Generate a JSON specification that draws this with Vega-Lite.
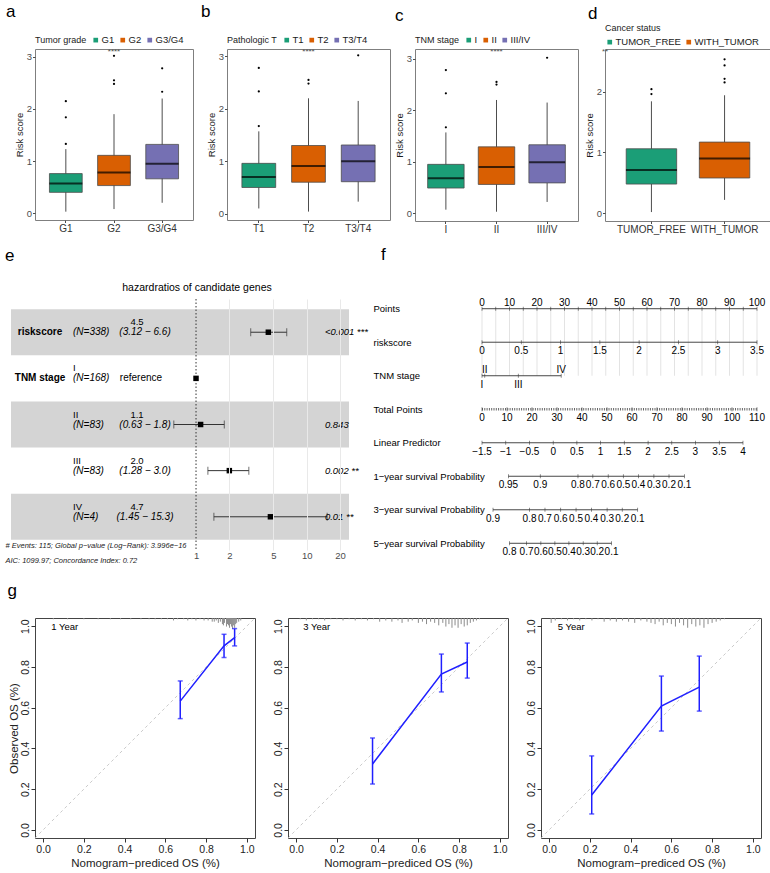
{
"$schema": "https://vega.github.io/schema/vega-lite/v6.json",
"padding": {"left": 5, "top": 2, "right": 0, "bottom": 0},
"config": {
 "font": "Liberation Sans",
 "view": {"stroke": null},
 "title": {"font": "Liberation Sans", "fontSize": 17, "fontWeight": "normal", "anchor": "start", "color": "#000", "frame": "group"},
 "axis": {"labelFont": "Liberation Sans", "titleFont": "Liberation Sans", "labelFontSize": 9.5, "titleFontSize": 9.5, "titleFontWeight": "normal", "labelColor": "#4d4d4d", "titleColor": "#1a1a1a", "tickColor": "#4d4d4d", "tickSize": 2.5, "labelPadding": 1, "titlePadding": 2, "domain": false, "grid": false, "labelFlush": false},
 "legend": {"orient": "top", "direction": "horizontal", "titleOrient": "left", "symbolType": "square", "symbolSize": 22, "symbolStrokeWidth": 0, "labelFontSize": 9.5, "titleFontSize": 9, "titleFontWeight": "normal", "labelFont": "Liberation Sans", "titleFont": "Liberation Sans", "columnPadding": 3, "labelOffset": 1, "padding": 0, "offset": 4, "titlePadding": 4, "labelColor": "#1a1a1a", "titleColor": "#1a1a1a"},
 "text": {"font": "Liberation Sans"}
},
"datasets": {
 "boxes": [
  {"panel":"a","grp":"G1","lo":0.03,"q1":0.40,"med":0.57,"q3":0.76,"hi":1.23},
  {"panel":"a","grp":"G2","lo":0.08,"q1":0.53,"med":0.78,"q3":1.11,"hi":1.90},
  {"panel":"a","grp":"G3/G4","lo":0.20,"q1":0.66,"med":0.95,"q3":1.32,"hi":2.20},
  {"panel":"b","grp":"T1","lo":0.10,"q1":0.50,"med":0.70,"q3":0.96,"hi":1.57},
  {"panel":"b","grp":"T2","lo":0.04,"q1":0.60,"med":0.91,"q3":1.30,"hi":2.20},
  {"panel":"b","grp":"T3/T4","lo":0.23,"q1":0.61,"med":1.00,"q3":1.31,"hi":2.15},
  {"panel":"c","grp":"I","lo":0.07,"q1":0.49,"med":0.68,"q3":0.95,"hi":1.57},
  {"panel":"c","grp":"II","lo":0.03,"q1":0.56,"med":0.90,"q3":1.29,"hi":2.20},
  {"panel":"c","grp":"III/IV","lo":0.22,"q1":0.59,"med":0.99,"q3":1.33,"hi":2.15},
  {"panel":"d","grp":"TUMOR_FREE","lo":0.02,"q1":0.48,"med":0.71,"q3":1.06,"hi":1.84},
  {"panel":"d","grp":"WITH_TUMOR","lo":0.22,"q1":0.58,"med":0.90,"q3":1.17,"hi":1.94}
 ],
 "outliers": [
  {"panel":"a","grp":"G1","v":1.33},{"panel":"a","grp":"G1","v":1.84},{"panel":"a","grp":"G1","v":2.15},
  {"panel":"a","grp":"G2","v":2.48},{"panel":"a","grp":"G2","v":2.55},{"panel":"a","grp":"G2","v":3.02},
  {"panel":"a","grp":"G3/G4","v":2.33},{"panel":"a","grp":"G3/G4","v":2.78},
  {"panel":"b","grp":"T1","v":1.67},{"panel":"b","grp":"T1","v":2.33},{"panel":"b","grp":"T1","v":2.78},
  {"panel":"b","grp":"T2","v":2.48},{"panel":"b","grp":"T2","v":2.55},
  {"panel":"b","grp":"T3/T4","v":3.02},
  {"panel":"c","grp":"I","v":1.67},{"panel":"c","grp":"I","v":2.33},{"panel":"c","grp":"I","v":2.78},
  {"panel":"c","grp":"II","v":2.50},{"panel":"c","grp":"II","v":2.55},
  {"panel":"c","grp":"III/IV","v":3.02},
  {"panel":"d","grp":"TUMOR_FREE","v":1.96},{"panel":"d","grp":"TUMOR_FREE","v":2.04},
  {"panel":"d","grp":"WITH_TUMOR","v":2.15},{"panel":"d","grp":"WITH_TUMOR","v":2.21},{"panel":"d","grp":"WITH_TUMOR","v":2.43},{"panel":"d","grp":"WITH_TUMOR","v":2.53}
 ],
 "forest": [
  {"row":"riskscore","lab":"riskscore","lvl":null,"n":"(N=338)","est":"4.5","ci":"(3.12 −  6.6)","ref":null,"hr":4.5,"lo":3.12,"hi":6.6,"p":"<0.001 ***"},
  {"row":"I","lab":"TNM stage","lvl":"I","n":"(N=168)","est":null,"ci":null,"ref":"reference","hr":1,"lo":null,"hi":null,"p":null},
  {"row":"II","lab":null,"lvl":"II","n":"(N=83)","est":"1.1","ci":"(0.63 −  1.8)","ref":null,"hr":1.1,"lo":0.63,"hi":1.8,"p":"0.843"},
  {"row":"III","lab":null,"lvl":"III","n":"(N=83)","est":"2.0","ci":"(1.28 −  3.0)","ref":null,"hr":2.0,"lo":1.28,"hi":3.0,"p":"0.002 **"},
  {"row":"IV","lab":null,"lvl":"IV","n":"(N=4)","est":"4.7","ci":"(1.45 − 15.3)","ref":null,"hr":4.7,"lo":1.45,"hi":15.3,"p":"0.01 **"}
 ],
 "nomo": [
  {"axis":"Points","pos":0,"label":"0","side":"above"},{"axis":"Points","pos":5,"label":"","side":"above"},
  {"axis":"Points","pos":10,"label":"10","side":"above"},{"axis":"Points","pos":15,"label":"","side":"above"},
  {"axis":"Points","pos":20,"label":"20","side":"above"},{"axis":"Points","pos":25,"label":"","side":"above"},
  {"axis":"Points","pos":30,"label":"30","side":"above"},{"axis":"Points","pos":35,"label":"","side":"above"},
  {"axis":"Points","pos":40,"label":"40","side":"above"},{"axis":"Points","pos":45,"label":"","side":"above"},
  {"axis":"Points","pos":50,"label":"50","side":"above"},{"axis":"Points","pos":55,"label":"","side":"above"},
  {"axis":"Points","pos":60,"label":"60","side":"above"},{"axis":"Points","pos":65,"label":"","side":"above"},
  {"axis":"Points","pos":70,"label":"70","side":"above"},{"axis":"Points","pos":75,"label":"","side":"above"},
  {"axis":"Points","pos":80,"label":"80","side":"above"},{"axis":"Points","pos":85,"label":"","side":"above"},
  {"axis":"Points","pos":90,"label":"90","side":"above"},{"axis":"Points","pos":95,"label":"","side":"above"},
  {"axis":"Points","pos":100,"label":"100","side":"above"},
  {"axis":"riskscore","pos":0,"label":"0","side":"below"},{"axis":"riskscore","pos":14.29,"label":"0.5","side":"below"},
  {"axis":"riskscore","pos":28.57,"label":"1","side":"below"},{"axis":"riskscore","pos":42.86,"label":"1.5","side":"below"},
  {"axis":"riskscore","pos":57.14,"label":"2","side":"below"},{"axis":"riskscore","pos":71.43,"label":"2.5","side":"below"},
  {"axis":"riskscore","pos":85.71,"label":"3","side":"below"},{"axis":"riskscore","pos":100,"label":"3.5","side":"below"},
  {"axis":"TNM stage","pos":0,"label":"I","side":"below"},{"axis":"TNM stage","pos":1,"label":"II","side":"above"},
  {"axis":"TNM stage","pos":13.2,"label":"III","side":"below"},{"axis":"TNM stage","pos":28.8,"label":"IV","side":"above"},
  {"axis":"Total Points","pos":0,"label":"0","side":"below"},{"axis":"Total Points","pos":9.09,"label":"10","side":"below"},
  {"axis":"Total Points","pos":18.18,"label":"20","side":"below"},{"axis":"Total Points","pos":27.27,"label":"30","side":"below"},
  {"axis":"Total Points","pos":36.36,"label":"40","side":"below"},{"axis":"Total Points","pos":45.45,"label":"50","side":"below"},
  {"axis":"Total Points","pos":54.55,"label":"60","side":"below"},{"axis":"Total Points","pos":63.64,"label":"70","side":"below"},
  {"axis":"Total Points","pos":72.73,"label":"80","side":"below"},{"axis":"Total Points","pos":81.82,"label":"90","side":"below"},
  {"axis":"Total Points","pos":90.91,"label":"100","side":"below"},{"axis":"Total Points","pos":100,"label":"110","side":"below"},
  {"axis":"Linear Predictor","pos":0,"label":"−1.5","side":"below"},{"axis":"Linear Predictor","pos":8.63,"label":"−1","side":"below"},
  {"axis":"Linear Predictor","pos":17.25,"label":"−0.5","side":"below"},{"axis":"Linear Predictor","pos":25.9,"label":"0","side":"below"},
  {"axis":"Linear Predictor","pos":34.5,"label":"0.5","side":"below"},{"axis":"Linear Predictor","pos":43.1,"label":"1","side":"below"},
  {"axis":"Linear Predictor","pos":51.75,"label":"1.5","side":"below"},{"axis":"Linear Predictor","pos":60.4,"label":"2","side":"below"},
  {"axis":"Linear Predictor","pos":69,"label":"2.5","side":"below"},{"axis":"Linear Predictor","pos":77.6,"label":"3","side":"below"},
  {"axis":"Linear Predictor","pos":86.3,"label":"3.5","side":"below"},{"axis":"Linear Predictor","pos":94.9,"label":"4","side":"below"},
  {"axis":"1−year survival Probability","pos":9.6,"label":"0.95","side":"below"},{"axis":"1−year survival Probability","pos":21.2,"label":"0.9","side":"below"},
  {"axis":"1−year survival Probability","pos":34.9,"label":"0.8","side":"below"},{"axis":"1−year survival Probability","pos":40.3,"label":"0.7","side":"below"},
  {"axis":"1−year survival Probability","pos":45.9,"label":"0.6","side":"below"},{"axis":"1−year survival Probability","pos":51.4,"label":"0.5","side":"below"},
  {"axis":"1−year survival Probability","pos":56.9,"label":"0.4","side":"below"},{"axis":"1−year survival Probability","pos":62.5,"label":"0.3","side":"below"},
  {"axis":"1−year survival Probability","pos":68.0,"label":"0.2","side":"below"},{"axis":"1−year survival Probability","pos":73.6,"label":"0.1","side":"below"},
  {"axis":"3−year survival Probability","pos":4.0,"label":"0.9","side":"below"},{"axis":"3−year survival Probability","pos":17.3,"label":"0.8","side":"below"},
  {"axis":"3−year survival Probability","pos":22.9,"label":"0.7","side":"below"},{"axis":"3−year survival Probability","pos":28.6,"label":"0.6","side":"below"},
  {"axis":"3−year survival Probability","pos":34.2,"label":"0.5","side":"below"},{"axis":"3−year survival Probability","pos":39.8,"label":"0.4","side":"below"},
  {"axis":"3−year survival Probability","pos":45.5,"label":"0.3","side":"below"},{"axis":"3−year survival Probability","pos":51.0,"label":"0.2","side":"below"},
  {"axis":"3−year survival Probability","pos":56.6,"label":"0.1","side":"below"},
  {"axis":"5−year survival Probability","pos":10.0,"label":"0.8","side":"below"},{"axis":"5−year survival Probability","pos":16.2,"label":"0.7","side":"below"},
  {"axis":"5−year survival Probability","pos":21.4,"label":"0.6","side":"below"},{"axis":"5−year survival Probability","pos":26.5,"label":"0.5","side":"below"},
  {"axis":"5−year survival Probability","pos":31.6,"label":"0.4","side":"below"},{"axis":"5−year survival Probability","pos":36.8,"label":"0.3","side":"below"},
  {"axis":"5−year survival Probability","pos":41.9,"label":"0.2","side":"below"},{"axis":"5−year survival Probability","pos":47.1,"label":"0.1","side":"below"}
 ],
 "calib": [
  {"panel":"1 Year","pred":0.673,"obs":0.632,"lo":0.546,"hi":0.731},
  {"panel":"1 Year","pred":0.888,"obs":0.903,"lo":0.846,"hi":0.960},
  {"panel":"1 Year","pred":0.940,"obs":0.944,"lo":0.903,"hi":0.988},
  {"panel":"3 Year","pred":0.375,"obs":0.323,"lo":0.225,"hi":0.451},
  {"panel":"3 Year","pred":0.713,"obs":0.765,"lo":0.677,"hi":0.863},
  {"panel":"3 Year","pred":0.840,"obs":0.824,"lo":0.745,"hi":0.917},
  {"panel":"5 Year","pred":0.209,"obs":0.171,"lo":0.078,"hi":0.363},
  {"panel":"5 Year","pred":0.551,"obs":0.608,"lo":0.485,"hi":0.755},
  {"panel":"5 Year","pred":0.737,"obs":0.701,"lo":0.583,"hi":0.853}
 ],
 "rug": [
  {"panel":"1 Year","pred":0.05,"n":1},{"panel":"1 Year","pred":0.12,"n":1},{"panel":"1 Year","pred":0.2,"n":1},{"panel":"1 Year","pred":0.27,"n":1},
  {"panel":"1 Year","pred":0.33,"n":1},{"panel":"1 Year","pred":0.38,"n":1},{"panel":"1 Year","pred":0.43,"n":1},{"panel":"1 Year","pred":0.48,"n":1},
  {"panel":"1 Year","pred":0.52,"n":1},{"panel":"1 Year","pred":0.55,"n":1},{"panel":"1 Year","pred":0.58,"n":1},{"panel":"1 Year","pred":0.61,"n":1},
  {"panel":"1 Year","pred":0.64,"n":2},{"panel":"1 Year","pred":0.66,"n":1},{"panel":"1 Year","pred":0.69,"n":1},{"panel":"1 Year","pred":0.71,"n":2},
  {"panel":"1 Year","pred":0.73,"n":1},{"panel":"1 Year","pred":0.75,"n":2},{"panel":"1 Year","pred":0.77,"n":1},{"panel":"1 Year","pred":0.79,"n":2},
  {"panel":"1 Year","pred":0.81,"n":2},{"panel":"1 Year","pred":0.83,"n":3},{"panel":"1 Year","pred":0.84,"n":3},{"panel":"1 Year","pred":0.85,"n":2},
  {"panel":"1 Year","pred":0.86,"n":4},{"panel":"1 Year","pred":0.87,"n":3},{"panel":"1 Year","pred":0.88,"n":5},{"panel":"1 Year","pred":0.885,"n":6},
  {"panel":"1 Year","pred":0.89,"n":4},{"panel":"1 Year","pred":0.9,"n":7},{"panel":"1 Year","pred":0.905,"n":5},{"panel":"1 Year","pred":0.91,"n":6},
  {"panel":"1 Year","pred":0.915,"n":8},{"panel":"1 Year","pred":0.92,"n":5},{"panel":"1 Year","pred":0.925,"n":7},{"panel":"1 Year","pred":0.93,"n":9},
  {"panel":"1 Year","pred":0.935,"n":6},{"panel":"1 Year","pred":0.94,"n":8},{"panel":"1 Year","pred":0.945,"n":5},{"panel":"1 Year","pred":0.95,"n":4},
  {"panel":"1 Year","pred":0.96,"n":3},{"panel":"1 Year","pred":0.97,"n":2},
  {"panel":"3 Year","pred":0.02,"n":1},{"panel":"3 Year","pred":0.05,"n":2},{"panel":"3 Year","pred":0.08,"n":1},{"panel":"3 Year","pred":0.11,"n":1},
  {"panel":"3 Year","pred":0.14,"n":2},{"panel":"3 Year","pred":0.17,"n":1},{"panel":"3 Year","pred":0.2,"n":1},{"panel":"3 Year","pred":0.23,"n":2},
  {"panel":"3 Year","pred":0.26,"n":1},{"panel":"3 Year","pred":0.29,"n":2},{"panel":"3 Year","pred":0.32,"n":1},{"panel":"3 Year","pred":0.35,"n":2},
  {"panel":"3 Year","pred":0.38,"n":1},{"panel":"3 Year","pred":0.41,"n":3},{"panel":"3 Year","pred":0.44,"n":2},{"panel":"3 Year","pred":0.47,"n":3},
  {"panel":"3 Year","pred":0.5,"n":2},{"panel":"3 Year","pred":0.52,"n":4},{"panel":"3 Year","pred":0.55,"n":3},{"panel":"3 Year","pred":0.57,"n":2},
  {"panel":"3 Year","pred":0.6,"n":4},{"panel":"3 Year","pred":0.62,"n":3},{"panel":"3 Year","pred":0.64,"n":5},{"panel":"3 Year","pred":0.66,"n":3},
  {"panel":"3 Year","pred":0.68,"n":4},{"panel":"3 Year","pred":0.7,"n":6},{"panel":"3 Year","pred":0.72,"n":4},{"panel":"3 Year","pred":0.735,"n":7},
  {"panel":"3 Year","pred":0.75,"n":5},{"panel":"3 Year","pred":0.765,"n":8},{"panel":"3 Year","pred":0.78,"n":6},{"panel":"3 Year","pred":0.795,"n":8},
  {"panel":"3 Year","pred":0.81,"n":5},{"panel":"3 Year","pred":0.825,"n":7},{"panel":"3 Year","pred":0.84,"n":6},{"panel":"3 Year","pred":0.855,"n":4},
  {"panel":"3 Year","pred":0.87,"n":3},{"panel":"3 Year","pred":0.885,"n":2},{"panel":"3 Year","pred":0.9,"n":1},
  {"panel":"5 Year","pred":0.01,"n":4},{"panel":"5 Year","pred":0.03,"n":2},{"panel":"5 Year","pred":0.06,"n":1},{"panel":"5 Year","pred":0.09,"n":2},
  {"panel":"5 Year","pred":0.12,"n":1},{"panel":"5 Year","pred":0.15,"n":2},{"panel":"5 Year","pred":0.18,"n":1},{"panel":"5 Year","pred":0.21,"n":2},
  {"panel":"5 Year","pred":0.24,"n":1},{"panel":"5 Year","pred":0.27,"n":3},{"panel":"5 Year","pred":0.3,"n":2},{"panel":"5 Year","pred":0.33,"n":3},
  {"panel":"5 Year","pred":0.36,"n":2},{"panel":"5 Year","pred":0.39,"n":3},{"panel":"5 Year","pred":0.42,"n":4},{"panel":"5 Year","pred":0.45,"n":2},
  {"panel":"5 Year","pred":0.48,"n":3},{"panel":"5 Year","pred":0.5,"n":4},{"panel":"5 Year","pred":0.52,"n":5},{"panel":"5 Year","pred":0.54,"n":3},
  {"panel":"5 Year","pred":0.56,"n":6},{"panel":"5 Year","pred":0.58,"n":4},{"panel":"5 Year","pred":0.6,"n":5},{"panel":"5 Year","pred":0.62,"n":7},
  {"panel":"5 Year","pred":0.64,"n":4},{"panel":"5 Year","pred":0.66,"n":6},{"panel":"5 Year","pred":0.68,"n":8},{"panel":"5 Year","pred":0.7,"n":5},
  {"panel":"5 Year","pred":0.72,"n":7},{"panel":"5 Year","pred":0.74,"n":6},{"panel":"5 Year","pred":0.76,"n":8},{"panel":"5 Year","pred":0.78,"n":5},
  {"panel":"5 Year","pred":0.8,"n":4},{"panel":"5 Year","pred":0.82,"n":3},{"panel":"5 Year","pred":0.84,"n":2},{"panel":"5 Year","pred":0.86,"n":1}
 ]
},
"spacing": 18,
"resolve": {"scale": {"color": "independent"}},
"vconcat": [
 {"spacing": 10, "resolve": {"scale": {"color": "independent"}}, "vconcat": [
  {"spacing": 2, "resolve": {"scale": {"color": "independent"}}, "hconcat": [
   {"spacing": 6, "resolve": {"scale": {"color": "independent"}}, "hconcat": [
    {"width": 158, "height": 171, "view": {"stroke": "#7f7f7f"}, "title": {"text": "a", "dx": -29, "offset": 14},
     "layer": [
      {"data": {"name": "boxes"}, "transform": [{"filter": "datum.panel == 'a'"}], "mark": {"type": "rule", "color": "#4d4d4d"},
       "encoding": {"x": {"field": "grp", "type": "nominal", "scale": {"domain": ["G1","G2","G3/G4"], "paddingInner": 0.32, "paddingOuter": 0.3}, "axis": {"title": null, "labelAngle": 0, "labelFontSize": 10, "labelColor": "#333"}},
        "y": {"field": "lo", "type": "quantitative", "scale": {"domain": [-0.13, 3.15], "nice": false, "zero": false}, "axis": {"title": "Risk score", "values": [0,1,2,3], "format": "d"}},
        "y2": {"field": "hi"}}},
      {"data": {"name": "boxes"}, "transform": [{"filter": "datum.panel == 'a'"}], "mark": {"type": "bar", "stroke": "#4d4d4d", "strokeWidth": 0.8},
       "encoding": {"x": {"field": "grp", "type": "nominal"}, "y": {"field": "q1", "type": "quantitative"}, "y2": {"field": "q3"},
        "color": {"field": "grp", "type": "nominal", "scale": {"domain": ["G1","G2","G3/G4"], "range": ["#1b9e77","#d95f02","#7570b3"]}, "legend": {"title": "Tumor grade"}}}},
      {"data": {"name": "boxes"}, "transform": [{"filter": "datum.panel == 'a'"}], "mark": {"type": "tick", "color": "#000", "thickness": 2, "size": 33},
       "encoding": {"x": {"field": "grp", "type": "nominal"}, "y": {"field": "med", "type": "quantitative"}}},
      {"data": {"name": "outliers"}, "transform": [{"filter": "datum.panel == 'a'"}], "mark": {"type": "point", "filled": true, "size": 5, "color": "#000", "opacity": 1},
       "encoding": {"x": {"field": "grp", "type": "nominal"}, "y": {"field": "v", "type": "quantitative"}}},
      {"data": {"values": [{}]}, "mark": {"type": "text", "fontSize": 8, "color": "#555", "baseline": "middle"},
       "encoding": {"x": {"datum": "G2"}, "y": {"datum": 3.1}, "text": {"value": "****"}}}
     ]},
    {"width": 163, "height": 171, "view": {"stroke": "#7f7f7f"}, "title": {"text": "b", "dx": -26, "offset": 14},
     "layer": [
      {"data": {"name": "boxes"}, "transform": [{"filter": "datum.panel == 'b'"}], "mark": {"type": "rule", "color": "#4d4d4d"},
       "encoding": {"x": {"field": "grp", "type": "nominal", "scale": {"domain": ["T1","T2","T3/T4"], "paddingInner": 0.32, "paddingOuter": 0.3}, "axis": {"title": null, "labelAngle": 0, "labelFontSize": 10, "labelColor": "#333"}},
        "y": {"field": "lo", "type": "quantitative", "scale": {"domain": [-0.12, 3.14], "nice": false, "zero": false}, "axis": {"title": "Risk score", "values": [0,1,2,3], "format": "d"}},
        "y2": {"field": "hi"}}},
      {"data": {"name": "boxes"}, "transform": [{"filter": "datum.panel == 'b'"}], "mark": {"type": "bar", "stroke": "#4d4d4d", "strokeWidth": 0.8},
       "encoding": {"x": {"field": "grp", "type": "nominal"}, "y": {"field": "q1", "type": "quantitative"}, "y2": {"field": "q3"},
        "color": {"field": "grp", "type": "nominal", "scale": {"domain": ["T1","T2","T3/T4"], "range": ["#1b9e77","#d95f02","#7570b3"]}, "legend": {"title": "Pathologic T"}}}},
      {"data": {"name": "boxes"}, "transform": [{"filter": "datum.panel == 'b'"}], "mark": {"type": "tick", "color": "#000", "thickness": 2, "size": 34},
       "encoding": {"x": {"field": "grp", "type": "nominal"}, "y": {"field": "med", "type": "quantitative"}}},
      {"data": {"name": "outliers"}, "transform": [{"filter": "datum.panel == 'b'"}], "mark": {"type": "point", "filled": true, "size": 5, "color": "#000", "opacity": 1},
       "encoding": {"x": {"field": "grp", "type": "nominal"}, "y": {"field": "v", "type": "quantitative"}}},
      {"data": {"values": [{}]}, "mark": {"type": "text", "fontSize": 8, "color": "#555", "baseline": "middle"},
       "encoding": {"x": {"datum": "T2"}, "y": {"datum": 3.09}, "text": {"value": "****"}}}
     ]}
   ]},
   {"spacing": 4, "resolve": {"scale": {"color": "independent"}}, "hconcat": [
    {"width": 163, "height": 172, "view": {"stroke": "#7f7f7f"}, "title": {"text": "c", "dx": -20, "offset": 10},
     "layer": [
      {"data": {"name": "boxes"}, "transform": [{"filter": "datum.panel == 'c'"}], "mark": {"type": "rule", "color": "#4d4d4d"},
       "encoding": {"x": {"field": "grp", "type": "nominal", "scale": {"domain": ["I","II","III/IV"], "paddingInner": 0.28, "paddingOuter": 0.25}, "axis": {"title": null, "labelAngle": 0, "labelFontSize": 10, "labelColor": "#333"}},
        "y": {"field": "lo", "type": "quantitative", "scale": {"domain": [-0.15, 3.19], "nice": false, "zero": false}, "axis": {"title": "Risk score", "values": [0,1,2,3], "format": "d"}},
        "y2": {"field": "hi"}}},
      {"data": {"name": "boxes"}, "transform": [{"filter": "datum.panel == 'c'"}], "mark": {"type": "bar", "stroke": "#4d4d4d", "strokeWidth": 0.8},
       "encoding": {"x": {"field": "grp", "type": "nominal"}, "y": {"field": "q1", "type": "quantitative"}, "y2": {"field": "q3"},
        "color": {"field": "grp", "type": "nominal", "scale": {"domain": ["I","II","III/IV"], "range": ["#1b9e77","#d95f02","#7570b3"]}, "legend": {"title": "TNM stage"}}}},
      {"data": {"name": "boxes"}, "transform": [{"filter": "datum.panel == 'c'"}], "mark": {"type": "tick", "color": "#000", "thickness": 2, "size": 36},
       "encoding": {"x": {"field": "grp", "type": "nominal"}, "y": {"field": "med", "type": "quantitative"}}},
      {"data": {"name": "outliers"}, "transform": [{"filter": "datum.panel == 'c'"}], "mark": {"type": "point", "filled": true, "size": 5, "color": "#000", "opacity": 1},
       "encoding": {"x": {"field": "grp", "type": "nominal"}, "y": {"field": "v", "type": "quantitative"}}},
      {"data": {"values": [{}]}, "mark": {"type": "text", "fontSize": 8, "color": "#555", "baseline": "middle"},
       "encoding": {"x": {"datum": "II"}, "y": {"datum": 3.13}, "text": {"value": "****"}}}
     ]},
    {"width": 166, "height": 172, "view": {"stroke": "#7f7f7f"}, "title": {"text": "d", "dx": -17, "offset": 1},
     "layer": [
      {"data": {"name": "boxes"}, "transform": [{"filter": "datum.panel == 'd'"}], "mark": {"type": "rule", "color": "#4d4d4d"},
       "encoding": {"x": {"field": "grp", "type": "nominal", "scale": {"domain": ["TUMOR_FREE","WITH_TUMOR"], "paddingInner": 0.31, "paddingOuter": 0.29}, "axis": {"title": null, "labelAngle": 0, "labelFontSize": 10, "labelColor": "#333"}},
        "y": {"field": "lo", "type": "quantitative", "scale": {"domain": [-0.127, 2.70], "nice": false, "zero": false}, "axis": {"title": "Risk score", "values": [0,1,2], "format": "d"}},
        "y2": {"field": "hi"}}},
      {"data": {"name": "boxes"}, "transform": [{"filter": "datum.panel == 'd'"}], "mark": {"type": "bar", "stroke": "#4d4d4d", "strokeWidth": 0.8},
       "encoding": {"x": {"field": "grp", "type": "nominal"}, "y": {"field": "q1", "type": "quantitative"}, "y2": {"field": "q3"},
        "color": {"field": "grp", "type": "nominal", "scale": {"domain": ["TUMOR_FREE","WITH_TUMOR"], "range": ["#1b9e77","#d95f02"]}, "legend": {"title": "Cancer status", "titleOrient": "top", "offset": 2}}}},
      {"data": {"name": "boxes"}, "transform": [{"filter": "datum.panel == 'd'"}], "mark": {"type": "tick", "color": "#000", "thickness": 2, "size": 51},
       "encoding": {"x": {"field": "grp", "type": "nominal"}, "y": {"field": "med", "type": "quantitative"}}},
      {"data": {"name": "outliers"}, "transform": [{"filter": "datum.panel == 'd'"}], "mark": {"type": "point", "filled": true, "size": 5, "color": "#000", "opacity": 1},
       "encoding": {"x": {"field": "grp", "type": "nominal"}, "y": {"field": "v", "type": "quantitative"}}},
      {"data": {"values": [{}]}, "mark": {"type": "text", "fontSize": 8, "color": "#555", "baseline": "middle"},
       "encoding": {"x": {"value": {"expr": "width / 2"}}, "y": {"datum": 2.65}, "text": {"value": "**"}}}
     ]}
   ]}
  ]},
  {"spacing": 5, "hconcat": [
   {"title": {"text": "e", "frame": "bounds", "offset": 18}, "hconcat": [
    {"width": 314, "height": 251,
     "title": {"text": "hazardratios of candidate genes", "anchor": "middle", "fontSize": 10.5, "dx": 5, "offset": 5, "frame": "group"},
     "data": {"name": "forest"},
     "layer": [
      {"transform": [{"filter": {"field": "row", "oneOf": ["riskscore","II","IV"]}}], "mark": {"type": "rect", "color": "#d4d4d4"},
       "encoding": {"x": {"datum": 0.0213}, "x2": {"datum": 24.1},
        "y": {"field": "row", "type": "nominal", "scale": {"domain": ["riskscore","I","II","III","IV"], "paddingInner": 0, "paddingOuter": 0.22}, "axis": null}}},
      {"data": {"values": [{}]}, "mark": {"type": "rule", "strokeDash": [1.5, 2], "color": "#333"},
       "encoding": {"x": {"datum": 1, "type": "quantitative"}}},
      {"mark": {"type": "rule", "color": "#333"},
       "encoding": {"x": {"field": "lo", "type": "quantitative", "scale": {"type": "log", "domain": [0.0351, 24.1], "nice": false},
         "axis": {"values": [1,2,5,10,20], "format": "d", "grid": true, "gridColor": "#e9e9e9", "gridOpacity": {"condition": {"test": "datum.value == 1", "value": 0}, "value": 1}, "zindex": 1, "ticks": false, "domain": false, "labelFontSize": 9.5, "labelColor": "#4d4d4d", "labelPadding": 0,
          "title": ["# Events: 115; Global p−value (Log−Rank): 3.996e−16", "AIC: 1099.97; Concordance Index: 0.72"], "titleFontStyle": "italic", "titleFontSize": 7.5, "titleAnchor": "start", "titleAlign": "left", "titleX": -30, "titleY": -9, "titleBaseline": "top", "titleLineHeight": 15, "titleColor": "#222"}},
        "x2": {"field": "hi"}, "y": {"field": "row", "type": "nominal"}}},
      {"mark": {"type": "tick", "color": "#333", "size": 8, "thickness": 1},
       "encoding": {"x": {"field": "lo", "type": "quantitative"}, "y": {"field": "row", "type": "nominal"}}},
      {"mark": {"type": "tick", "color": "#333", "size": 8, "thickness": 1},
       "encoding": {"x": {"field": "hi", "type": "quantitative"}, "y": {"field": "row", "type": "nominal"}}},
      {"mark": {"type": "point", "shape": "square", "filled": true, "size": 30, "color": "#000", "opacity": 1},
       "encoding": {"x": {"field": "hr", "type": "quantitative"}, "y": {"field": "row", "type": "nominal"}}},
      {"transform": [{"filter": "datum.lab != null"}], "mark": {"type": "text", "fontSize": 10, "fontWeight": "bold", "align": "center", "baseline": "middle"},
       "encoding": {"x": {"datum": 0.039}, "y": {"field": "row", "type": "nominal"}, "text": {"field": "lab"}}},
      {"transform": [{"filter": "datum.lvl != null"}], "mark": {"type": "text", "fontSize": 9.5, "align": "left", "baseline": "middle", "dy": -10},
       "encoding": {"x": {"datum": 0.0774}, "y": {"field": "row", "type": "nominal"}, "text": {"field": "lvl"}}},
      {"mark": {"type": "text", "fontSize": 10, "fontStyle": "italic", "align": "left", "baseline": "middle"},
       "encoding": {"x": {"datum": 0.0774}, "y": {"field": "row", "type": "nominal"}, "text": {"field": "n"}}},
      {"transform": [{"filter": "datum.est != null"}], "mark": {"type": "text", "fontSize": 9.5, "align": "center", "baseline": "middle", "dy": -10},
       "encoding": {"x": {"datum": 0.293}, "y": {"field": "row", "type": "nominal"}, "text": {"field": "est"}}},
      {"transform": [{"filter": "datum.ci != null"}], "mark": {"type": "text", "fontSize": 10, "fontStyle": "italic", "align": "center", "baseline": "middle"},
       "encoding": {"x": {"datum": 0.346}, "y": {"field": "row", "type": "nominal"}, "text": {"field": "ci"}}},
      {"transform": [{"filter": "datum.ref != null"}], "mark": {"type": "text", "fontSize": 10, "align": "center", "baseline": "middle"},
       "encoding": {"x": {"datum": 0.318}, "y": {"field": "row", "type": "nominal"}, "text": {"field": "ref"}}},
      {"transform": [{"filter": "datum.p != null"}], "mark": {"type": "text", "fontSize": 9.5, "fontStyle": "italic", "align": "left", "baseline": "middle"},
       "encoding": {"x": {"datum": 14.6}, "y": {"field": "row", "type": "nominal"}, "text": {"field": "p"}}}
     ]}
   ]},
   {"width": 275, "height": 254, "title": {"text": "f", "dx": -101, "offset": 34},
    "data": {"name": "nomo"},
    "layer": [
     {"transform": [{"filter": "datum.axis == 'Points'"}], "mark": {"type": "rule", "color": "#e3e3e3"},
      "encoding": {"x": {"field": "pos", "type": "quantitative", "scale": {"domain": [0, 100], "nice": false, "zero": false}, "axis": null},
       "y": {"datum": "Points", "type": "nominal", "scale": {"type": "point", "domain": ["Points","riskscore","TNM stage","Total Points","Linear Predictor","1−year survival Probability","3−year survival Probability","5−year survival Probability"], "padding": 0.29},
        "axis": {"title": null, "ticks": false, "domain": false, "labelAlign": "left", "labelPadding": 109, "labelFontSize": 9.5, "labelColor": "#000", "labelLimit": 300, "labelBaseline": "middle"}},
       "y2": {"datum": "TNM stage"}}},
     {"transform": [{"filter": "datum.axis != 'Total Points'"}], "mark": {"type": "rule", "color": "#333", "strokeWidth": 0.9},
      "encoding": {"x": {"aggregate": "min", "field": "pos", "type": "quantitative"}, "x2": {"aggregate": "max", "field": "pos"}, "y": {"field": "axis", "type": "nominal"}}},
     {"transform": [{"filter": "datum.axis == 'Total Points'"}], "mark": {"type": "rule", "color": "#666", "strokeWidth": 2.5, "strokeDash": [1, 1.3]},
      "encoding": {"x": {"aggregate": "min", "field": "pos", "type": "quantitative"}, "x2": {"aggregate": "max", "field": "pos"}, "y": {"field": "axis", "type": "nominal"}}},
     {"mark": {"type": "tick", "orient": "vertical", "color": "#333", "size": 4, "thickness": 0.8},
      "encoding": {"x": {"field": "pos", "type": "quantitative"}, "y": {"field": "axis", "type": "nominal"}}},
     {"transform": [{"filter": "datum.side == 'above' && datum.label != ''"}], "mark": {"type": "text", "fontSize": 10, "dy": -6, "baseline": "middle", "align": "center"},
      "encoding": {"x": {"field": "pos", "type": "quantitative"}, "y": {"field": "axis", "type": "nominal"}, "text": {"field": "label"}}},
     {"transform": [{"filter": "datum.side == 'below' && datum.label != ''"}], "mark": {"type": "text", "fontSize": 10, "dy": 9, "baseline": "middle", "align": "center"},
      "encoding": {"x": {"field": "pos", "type": "quantitative"}, "y": {"field": "axis", "type": "nominal"}, "text": {"field": "label"}}}
    ]}
  ]}
 ]},
 {"title": {"text": "g", "frame": "bounds", "offset": 17}, "spacing": 16, "hconcat": [
  {"width": 220, "height": 220, "view": {"stroke": "#444"}, "resolve": {"scale": {"y": "independent"}},
   "layer": [
    {"data": {"name": "rug"}, "transform": [{"filter": "datum.panel == '1 Year'"}], "mark": {"type": "rule", "color": "#8c8c8c", "strokeWidth": 1},
     "encoding": {"x": {"field": "pred", "type": "quantitative", "scale": {"domain": [-0.04, 1.04], "nice": false, "zero": false},
       "axis": {"title": "Nomogram−prediced OS (%)", "values": [0,0.2,0.4,0.6,0.8,1], "format": ".1f", "labelFontSize": 10.5, "titleFontSize": 11.5, "tickSize": 4, "labelPadding": 2, "titlePadding": 3, "labelColor": "#222", "titleColor": "#222", "tickColor": "#333"}},
      "y": {"field": "n", "type": "quantitative", "scale": {"domain": [0, 180], "reverse": true, "nice": false}, "axis": null},
      "y2": {"datum": 0}}},
    {"layer": [
     {"data": {"values": [{}]}, "mark": {"type": "rule", "color": "#bdbdbd", "strokeDash": [3, 3], "strokeWidth": 0.8},
      "encoding": {"x": {"datum": -0.04}, "x2": {"datum": 1.04},
       "y": {"datum": -0.04, "type": "quantitative", "scale": {"domain": [-0.04, 1.04], "nice": false, "zero": false},
        "axis": {"title": "Observed OS (%)", "values": [0,0.2,0.4,0.6,0.8,1], "format": ".1f", "labelFontSize": 10.5, "titleFontSize": 11.5, "tickSize": 4, "labelPadding": 1, "titlePadding": 1, "labelColor": "#222", "titleColor": "#222", "tickColor": "#333", "labelAngle": -90, "labelAlign": "center", "labelBaseline": "bottom"}},
       "y2": {"datum": 1.04}}},
     {"data": {"name": "calib"}, "transform": [{"filter": "datum.panel == '1 Year'"}], "mark": {"type": "line", "color": "#1f1fff", "strokeWidth": 1.5},
      "encoding": {"x": {"field": "pred", "type": "quantitative"}, "y": {"field": "obs", "type": "quantitative"}}},
     {"data": {"name": "calib"}, "transform": [{"filter": "datum.panel == '1 Year'"}], "mark": {"type": "rule", "color": "#1f1fff", "strokeWidth": 1.5},
      "encoding": {"x": {"field": "pred", "type": "quantitative"}, "y": {"field": "lo", "type": "quantitative"}, "y2": {"field": "hi"}}},
     {"data": {"name": "calib"}, "transform": [{"filter": "datum.panel == '1 Year'"}], "mark": {"type": "tick", "orient": "horizontal", "color": "#1f1fff", "size": 5, "thickness": 1.5},
      "encoding": {"x": {"field": "pred", "type": "quantitative"}, "y": {"field": "lo", "type": "quantitative"}}},
     {"data": {"name": "calib"}, "transform": [{"filter": "datum.panel == '1 Year'"}], "mark": {"type": "tick", "orient": "horizontal", "color": "#1f1fff", "size": 5, "thickness": 1.5},
      "encoding": {"x": {"field": "pred", "type": "quantitative"}, "y": {"field": "hi", "type": "quantitative"}}},
     {"data": {"values": [{}]}, "mark": {"type": "text", "align": "left", "baseline": "middle", "fontSize": 9.5},
      "encoding": {"x": {"datum": 0.04}, "y": {"datum": 0.995}, "text": {"value": "1 Year"}}}
    ]}
   ]},
  {"width": 220, "height": 220, "view": {"stroke": "#444"}, "resolve": {"scale": {"y": "independent"}},
   "layer": [
    {"data": {"name": "rug"}, "transform": [{"filter": "datum.panel == '3 Year'"}], "mark": {"type": "rule", "color": "#8c8c8c", "strokeWidth": 1},
     "encoding": {"x": {"field": "pred", "type": "quantitative", "scale": {"domain": [-0.04, 1.04], "nice": false, "zero": false},
       "axis": {"title": "Nomogram−prediced OS (%)", "values": [0,0.2,0.4,0.6,0.8,1], "format": ".1f", "labelFontSize": 10.5, "titleFontSize": 11.5, "tickSize": 4, "labelPadding": 2, "titlePadding": 3, "labelColor": "#222", "titleColor": "#222", "tickColor": "#333"}},
      "y": {"field": "n", "type": "quantitative", "scale": {"domain": [0, 180], "reverse": true, "nice": false}, "axis": null},
      "y2": {"datum": 0}}},
    {"layer": [
     {"data": {"values": [{}]}, "mark": {"type": "rule", "color": "#bdbdbd", "strokeDash": [3, 3], "strokeWidth": 0.8},
      "encoding": {"x": {"datum": -0.04}, "x2": {"datum": 1.04},
       "y": {"datum": -0.04, "type": "quantitative", "scale": {"domain": [-0.04, 1.04], "nice": false, "zero": false},
        "axis": {"title": null, "values": [0,0.2,0.4,0.6,0.8,1], "format": ".1f", "labelFontSize": 10.5, "tickSize": 4, "labelPadding": 1, "labelColor": "#222", "tickColor": "#333", "labelAngle": -90, "labelAlign": "center", "labelBaseline": "bottom"}},
       "y2": {"datum": 1.04}}},
     {"data": {"name": "calib"}, "transform": [{"filter": "datum.panel == '3 Year'"}], "mark": {"type": "line", "color": "#1f1fff", "strokeWidth": 1.5},
      "encoding": {"x": {"field": "pred", "type": "quantitative"}, "y": {"field": "obs", "type": "quantitative"}}},
     {"data": {"name": "calib"}, "transform": [{"filter": "datum.panel == '3 Year'"}], "mark": {"type": "rule", "color": "#1f1fff", "strokeWidth": 1.5},
      "encoding": {"x": {"field": "pred", "type": "quantitative"}, "y": {"field": "lo", "type": "quantitative"}, "y2": {"field": "hi"}}},
     {"data": {"name": "calib"}, "transform": [{"filter": "datum.panel == '3 Year'"}], "mark": {"type": "tick", "orient": "horizontal", "color": "#1f1fff", "size": 5, "thickness": 1.5},
      "encoding": {"x": {"field": "pred", "type": "quantitative"}, "y": {"field": "lo", "type": "quantitative"}}},
     {"data": {"name": "calib"}, "transform": [{"filter": "datum.panel == '3 Year'"}], "mark": {"type": "tick", "orient": "horizontal", "color": "#1f1fff", "size": 5, "thickness": 1.5},
      "encoding": {"x": {"field": "pred", "type": "quantitative"}, "y": {"field": "hi", "type": "quantitative"}}},
     {"data": {"values": [{}]}, "mark": {"type": "text", "align": "left", "baseline": "middle", "fontSize": 9.5},
      "encoding": {"x": {"datum": 0.035}, "y": {"datum": 0.995}, "text": {"value": "3 Year"}}}
    ]}
   ]},
  {"width": 220, "height": 220, "view": {"stroke": "#444"}, "resolve": {"scale": {"y": "independent"}},
   "layer": [
    {"data": {"name": "rug"}, "transform": [{"filter": "datum.panel == '5 Year'"}], "mark": {"type": "rule", "color": "#8c8c8c", "strokeWidth": 1},
     "encoding": {"x": {"field": "pred", "type": "quantitative", "scale": {"domain": [-0.04, 1.04], "nice": false, "zero": false},
       "axis": {"title": "Nomogram−prediced OS (%)", "values": [0,0.2,0.4,0.6,0.8,1], "format": ".1f", "labelFontSize": 10.5, "titleFontSize": 11.5, "tickSize": 4, "labelPadding": 2, "titlePadding": 3, "labelColor": "#222", "titleColor": "#222", "tickColor": "#333"}},
      "y": {"field": "n", "type": "quantitative", "scale": {"domain": [0, 180], "reverse": true, "nice": false}, "axis": null},
      "y2": {"datum": 0}}},
    {"layer": [
     {"data": {"values": [{}]}, "mark": {"type": "rule", "color": "#bdbdbd", "strokeDash": [3, 3], "strokeWidth": 0.8},
      "encoding": {"x": {"datum": -0.04}, "x2": {"datum": 1.04},
       "y": {"datum": -0.04, "type": "quantitative", "scale": {"domain": [-0.04, 1.04], "nice": false, "zero": false},
        "axis": {"title": null, "values": [0,0.2,0.4,0.6,0.8,1], "format": ".1f", "labelFontSize": 10.5, "tickSize": 4, "labelPadding": 1, "labelColor": "#222", "tickColor": "#333", "labelAngle": -90, "labelAlign": "center", "labelBaseline": "bottom"}},
       "y2": {"datum": 1.04}}},
     {"data": {"name": "calib"}, "transform": [{"filter": "datum.panel == '5 Year'"}], "mark": {"type": "line", "color": "#1f1fff", "strokeWidth": 1.5},
      "encoding": {"x": {"field": "pred", "type": "quantitative"}, "y": {"field": "obs", "type": "quantitative"}}},
     {"data": {"name": "calib"}, "transform": [{"filter": "datum.panel == '5 Year'"}], "mark": {"type": "rule", "color": "#1f1fff", "strokeWidth": 1.5},
      "encoding": {"x": {"field": "pred", "type": "quantitative"}, "y": {"field": "lo", "type": "quantitative"}, "y2": {"field": "hi"}}},
     {"data": {"name": "calib"}, "transform": [{"filter": "datum.panel == '5 Year'"}], "mark": {"type": "tick", "orient": "horizontal", "color": "#1f1fff", "size": 5, "thickness": 1.5},
      "encoding": {"x": {"field": "pred", "type": "quantitative"}, "y": {"field": "lo", "type": "quantitative"}}},
     {"data": {"name": "calib"}, "transform": [{"filter": "datum.panel == '5 Year'"}], "mark": {"type": "tick", "orient": "horizontal", "color": "#1f1fff", "size": 5, "thickness": 1.5},
      "encoding": {"x": {"field": "pred", "type": "quantitative"}, "y": {"field": "hi", "type": "quantitative"}}},
     {"data": {"values": [{}]}, "mark": {"type": "text", "align": "left", "baseline": "middle", "fontSize": 9.5},
      "encoding": {"x": {"datum": 0.042}, "y": {"datum": 0.995}, "text": {"value": "5 Year"}}}
    ]}
   ]}
 ]}
]
}
